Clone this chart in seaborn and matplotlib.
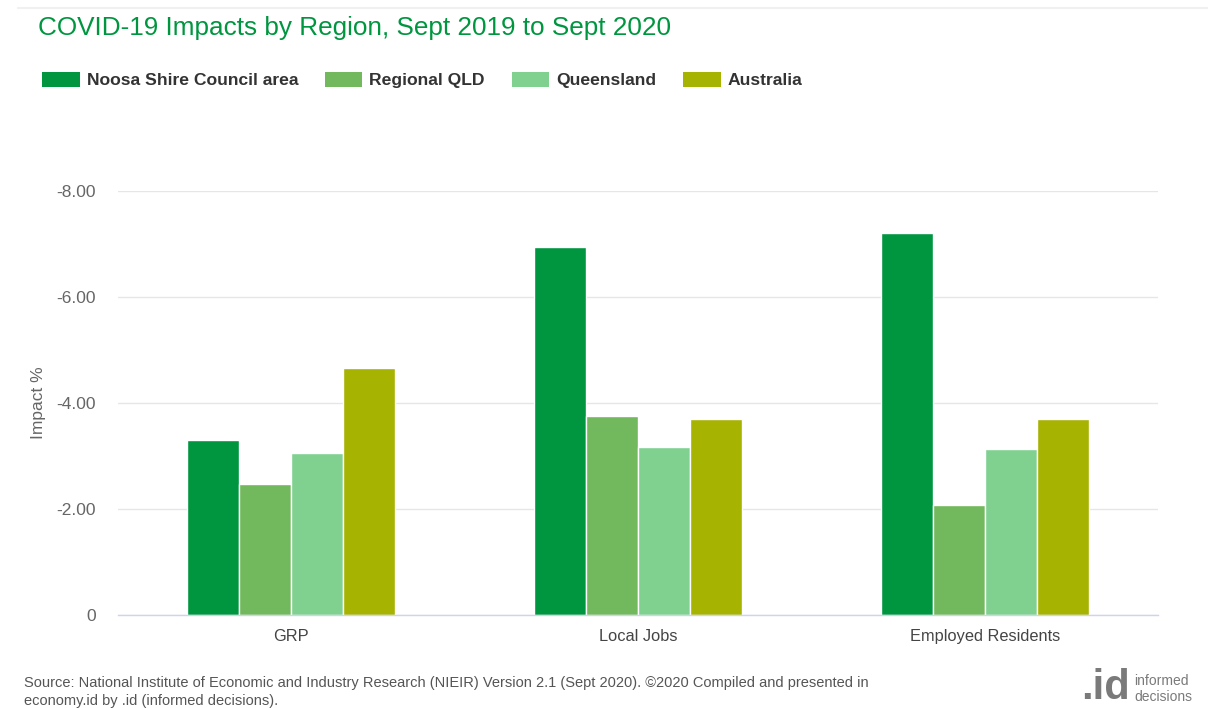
import matplotlib
matplotlib.use("Agg")
import matplotlib.pyplot as plt
import seaborn as sns
import pandas as pd
from matplotlib.patches import Patch

# Data: impact (%) by measure and region
measures = ["GRP", "Local Jobs", "Employed Residents"]
regions = ["Noosa Shire Council area", "Regional QLD", "Queensland", "Australia"]
noosa = [-3.30, -6.94, -7.21]
regional_qld = [-2.47, -3.75, -2.08]
queensland = [-3.06, -3.17, -3.13]
australia = [-4.66, -3.70, -3.70]
y_ticks = [0, -2, -4, -6, -8]
y_tick_labels = ["0", "-2.00", "-4.00", "-6.00", "-8.00"]

colors = ["#009640", "#72B85C", "#80D190", "#A6B300"]

rows = []
for series_name, vals in zip(regions, [noosa, regional_qld, queensland, australia]):
    for m, v in zip(measures, vals):
        rows.append({"Measure": m, "Region": series_name, "Impact": v})
df = pd.DataFrame(rows)

sns.set_theme(style="white")
plt.rcParams["font.family"] = ["Liberation Sans", "DejaVu Sans"]

fig = plt.figure(figsize=(12.08, 7.08), dpi=100)
ax = fig.add_axes([118 / 1208, 1 - 615 / 708, (1158 - 118) / 1208, (615 - 191) / 708])

sns.barplot(data=df, x="Measure", y="Impact", hue="Region", order=measures,
            hue_order=regions, palette=colors, width=0.6, ax=ax,
            edgecolor="white", linewidth=1, saturation=1, legend=False, errorbar=None)

ax.set_xlim(-0.5, 2.5)
ax.set_ylim(0, -8)
ax.set_yticks(y_ticks)
ax.set_yticklabels(y_tick_labels)
ax.grid(axis="y", color="#e6e6e6", linewidth=1)
ax.set_axisbelow(True)
for side in ["top", "right", "left"]:
    ax.spines[side].set_visible(False)
ax.spines["bottom"].set_color("#ccd6eb")
ax.spines["bottom"].set_linewidth(1)
ax.tick_params(axis="y", length=0, pad=16, labelsize=12.5, labelcolor="#666666")
ax.tick_params(axis="x", length=0, pad=10, labelsize=11.8, labelcolor="#444444")
ax.set_xlabel("")
ax.set_ylabel("Impact %", fontsize=12.5, color="#666666")
ax.yaxis.set_label_coords(-(118 - 46) / 1040, 0.5)

# Title
fig.text(38 / 1208, 1 - 28 / 708, "COVID-19 Impacts by Region, Sept 2019 to Sept 2020",
         fontsize=18.8, color="#009640", va="center", ha="left")

# Legend across the top
handles = [Patch(facecolor=c, edgecolor="none", label=r) for c, r in zip(colors, regions)]
fig.legend(handles=handles, loc="center left", bbox_to_anchor=(26 / 1208, 1 - 80 / 708),
           ncol=4, frameon=False, prop={"weight": "bold", "size": 12.6},
           handlelength=2.16, handleheight=1.0, handletextpad=0.4, columnspacing=1.52,
           labelcolor="#333333")

# Faint top border
fig.add_artist(plt.Line2D([18 / 1208, 1], [1 - 8 / 708, 1 - 8 / 708],
                          color="#f0f0f0", linewidth=1.5, transform=fig.transFigure))

# Source note
fig.text(24 / 1208, 1 - 683 / 708,
         "Source: National Institute of Economic and Industry Research (NIEIR) Version 2.1 (Sept 2020). \u00a92020 Compiled and presented in",
         fontsize=10.55, color="#555555", va="center", ha="left")
fig.text(24 / 1208, 1 - 701 / 708, "economy.id by .id (informed decisions).",
         fontsize=10.55, color="#555555", va="center", ha="left")

# Brand mark
fig.text(1130 / 1208, 1 - 688 / 708, ".id", fontsize=30, fontweight="bold",
         color="#7a7a7a", va="center", ha="right")
fig.text(1134 / 1208, 1 - 681 / 708, "informed", fontsize=10, color="#7a7a7a",
         va="center", ha="left")
fig.text(1134 / 1208, 1 - 697 / 708, "decisions", fontsize=10, color="#7a7a7a",
         va="center", ha="left")

fig.savefig("out.png", dpi=100)
